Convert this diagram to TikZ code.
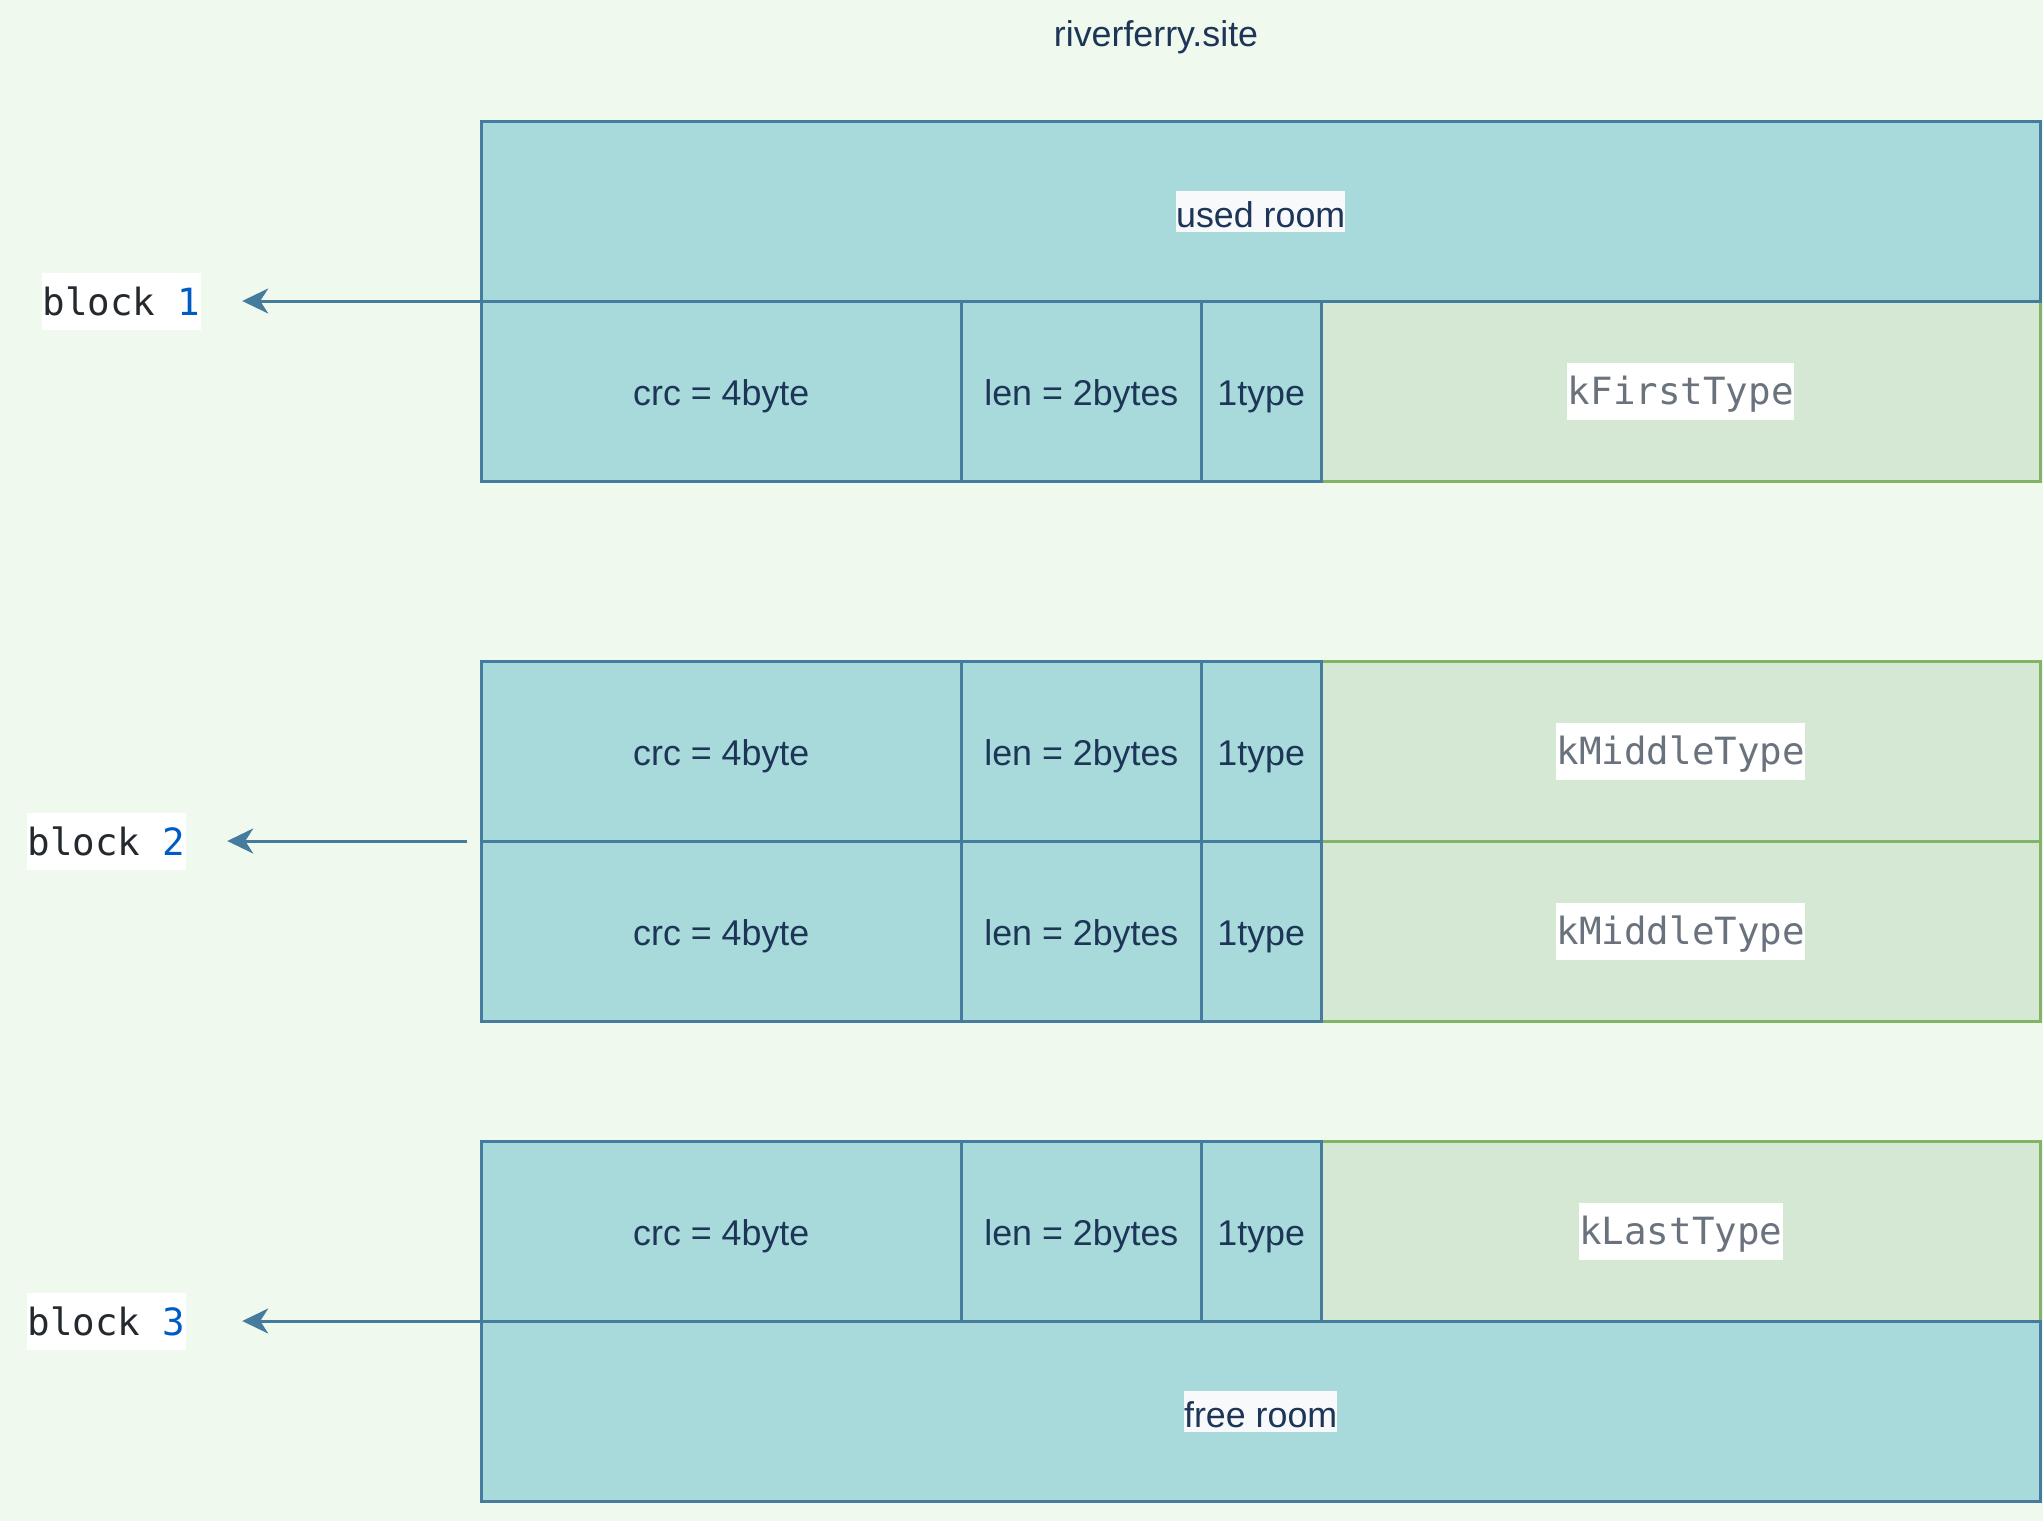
\documentclass[tikz,border=0pt]{standalone}
\usepackage{fontspec}
\setmainfont{Liberation Sans}
\newfontfamily\monofont{DejaVu Sans Mono}
\usetikzlibrary{arrows.meta}
\definecolor{bgc}{HTML}{F0F9EE}
\definecolor{cellfill}{HTML}{A8DADC}
\definecolor{celldraw}{HTML}{457B9D}
\definecolor{gfill}{HTML}{D5E8D4}
\definecolor{gdraw}{HTML}{82B366}
\definecolor{txt}{HTML}{1D3557}
\definecolor{kwc}{HTML}{24292E}
\definecolor{numc}{HTML}{005CC5}
\definecolor{codec}{HTML}{6A737D}
\definecolor{lblbg}{HTML}{F8F9FB}
\newcommand{\sansfs}{\fontsize{35.8pt}{42pt}\selectfont}
\newcommand{\monofs}{\monofont\fontsize{37.5pt}{44pt}\selectfont}
\tikzset{
  cell/.style={draw=celldraw, fill=cellfill, line width=3pt, outer sep=0pt, inner sep=0pt,
    minimum height=180pt, anchor=north west, text=txt, font=\sansfs,
    text height=36pt, text depth=7.5pt},
  gcell/.style={cell, draw=gdraw, fill=gfill},
  tag/.style={fill=white, inner xsep=0.5pt, inner ysep=0pt, minimum height=57pt, text=codec, font=\monofs,
    text height=36.4pt, text depth=9pt},
  blk/.style={fill=white, inner xsep=0.5pt, inner ysep=0pt, minimum height=57pt, font=\monofs},
  roomlbl/.style={fill=lblbg, inner xsep=0pt, inner ysep=0pt, minimum height=41pt, text=txt, font=\sansfs,
    text height=32pt, text depth=0pt},
  arr/.style={draw=celldraw, line width=3pt, -{Stealth[length=26pt,width=25pt,inset=8pt]}}
}
\begin{document}
\begin{tikzpicture}[x=1pt,y=-1pt]
\fill[bgc] (0,0) rectangle (2043,1521);
\useasboundingbox (0,0) rectangle (2043,1521);

\node[text=txt, font=\sansfs, text height=34pt, text depth=7.5pt] (title) at (1156,33) {riverferry.site};

% block 1
\node[gcell, minimum width=719.2pt] (g1) at (1321.2,301) {};
\node[cell, minimum width=1559.4pt] (used) at (481,121) {};
\node[roomlbl] (usedlbl) at (used.center) {used room};
\node[cell, minimum width=480.5pt] (crc1) at (481,301) {crc = 4byte};
\node[cell, minimum width=239.8pt] (len1) at (961.5,301) {len = 2bytes};
\node[cell, minimum width=119.9pt] (ty1) at (1201.3,301) {1type};
\node[tag] (k1) at (g1.center) {kFirstType};

% block 2
\node[gcell, minimum width=719.2pt] (g2a) at (1321.2,661) {};
\node[gcell, minimum width=719.2pt] (g2b) at (1321.2,841) {};
\node[cell, minimum width=480.5pt] (crc2a) at (481,661) {crc = 4byte};
\node[cell, minimum width=239.8pt] (len2a) at (961.5,661) {len = 2bytes};
\node[cell, minimum width=119.9pt] (ty2a) at (1201.3,661) {1type};
\node[cell, minimum width=480.5pt] (crc2b) at (481,841) {crc = 4byte};
\node[cell, minimum width=239.8pt] (len2b) at (961.5,841) {len = 2bytes};
\node[cell, minimum width=119.9pt] (ty2b) at (1201.3,841) {1type};
\node[tag] (k2a) at (g2a.center) {kMiddleType};
\node[tag] (k2b) at (g2b.center) {kMiddleType};

% block 3
\node[gcell, minimum width=719.2pt] (g3) at (1321.2,1141) {};
\node[cell, minimum width=480.5pt] (crc3) at (481,1141) {crc = 4byte};
\node[cell, minimum width=239.8pt] (len3) at (961.5,1141) {len = 2bytes};
\node[cell, minimum width=119.9pt] (ty3) at (1201.3,1141) {1type};
\node[cell, minimum width=1559.4pt] (free) at (481,1321) {};
\node[roomlbl] (freelbl) at (free.center) {free room};
\node[tag] (k3) at (g3.center) {kLastType};

% block labels
\node[blk] (b1) at (121.5,301.5) {{\color{kwc}block} {\color{numc}1}};
\node[blk] (b2) at (106.5,841.5) {{\color{kwc}block} {\color{numc}2}};
\node[blk] (b3) at (106.5,1321.5) {{\color{kwc}block} {\color{numc}3}};

% arrows
\coordinate (a1) at (used.south west);
\coordinate (a2) at (466.7,841);
\coordinate (a3) at (free.north west);
\draw[arr, shorten >=41pt] (a1) -- (a1 -| b1.east);
\draw[arr, shorten >=41pt] (a2) -- (a2 -| b2.east);
\draw[arr, shorten >=56pt] (a3) -- (a3 -| b3.east);
\end{tikzpicture}
\end{document}
